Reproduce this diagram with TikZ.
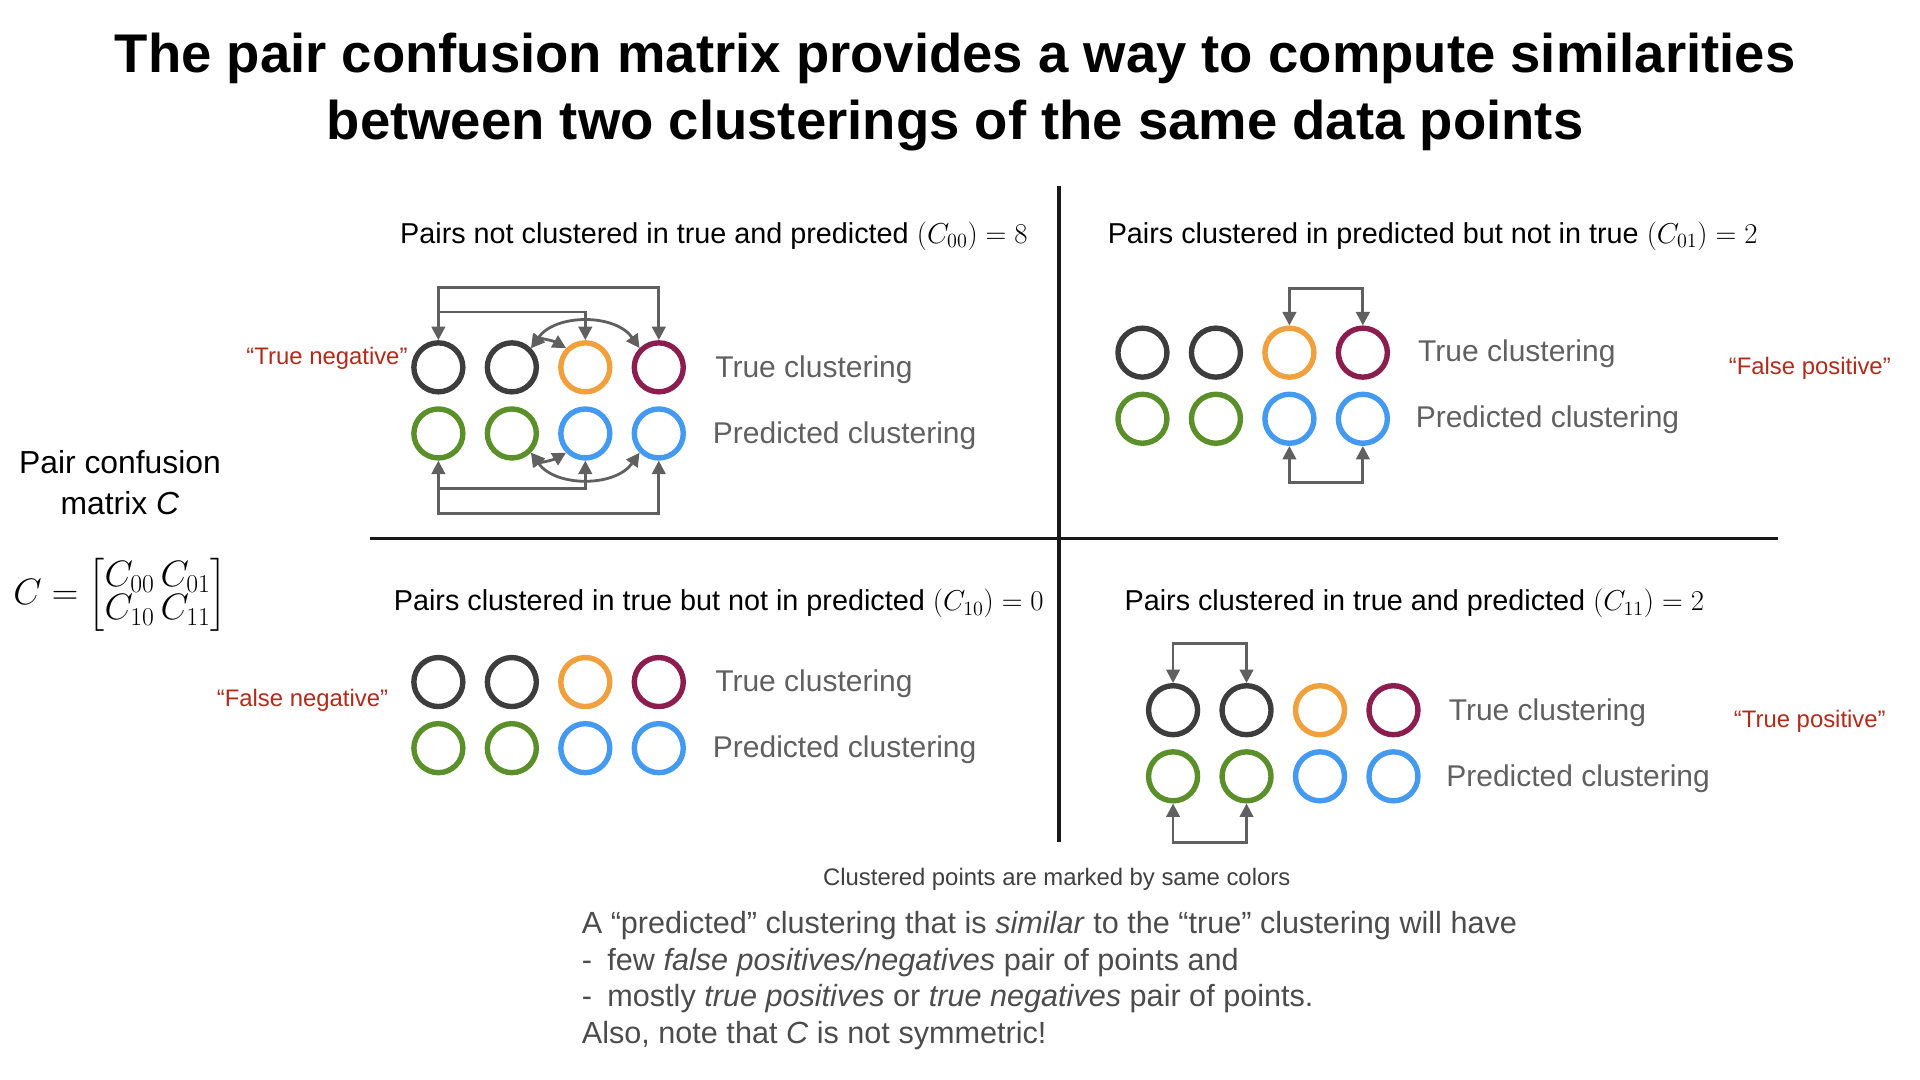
\RequirePackage{fix-cm}
\documentclass[tikz,border=0pt]{standalone}
\usepackage{amsmath}
\usepackage{fontspec}
\setmainfont{Liberation Sans}
\usetikzlibrary{arrows.meta}
\definecolor{cdark}{HTML}{3D3D3D}
\definecolor{corange}{HTML}{F0A03C}
\definecolor{cmaroon}{HTML}{8B1D4F}
\definecolor{cgreen}{HTML}{5A8F2A}
\definecolor{cblue}{HTML}{4499F0}
\definecolor{cgray}{HTML}{606060}
\definecolor{cred}{HTML}{B22A1A}
\tikzset{
 pt/.style={circle,draw=#1,line width=4.4pt,minimum size=40pt,inner sep=0pt},
 arr/.style={draw=cgray,line width=2.3pt,-{Triangle[length=11pt,width=11pt]}},
 darr/.style={draw=cgray,line width=2.3pt,{Triangle[length=11pt,width=11pt]}-{Triangle[length=11pt,width=11pt]}},
 lab/.style={font=\fontsize{24.5}{28}\selectfont,text=cgray,anchor=west,inner sep=0pt},
 hdr/.style={font=\fontsize{23.5}{27}\selectfont,inner sep=0pt},
 red/.style={font=\fontsize{19.5}{22}\selectfont,text=cred,inner sep=0pt},
 sep/.style={line width=2.8pt,black!90},
}
\newcommand{\quadpts}[4]{% prefix, x0, ytop, dx
 \node[pt=cdark] (#1a1) at (#2,#3) {};
 \node[pt=cdark] (#1a2) at (#2+#4,#3) {};
 \node[pt=corange] (#1a3) at (#2+2*#4,#3) {};
 \node[pt=cmaroon] (#1a4) at (#2+3*#4,#3) {};
 \node[pt=cgreen] (#1b1) at (#2,#3+54) {};
 \node[pt=cgreen] (#1b2) at (#2+#4,#3+54) {};
 \node[pt=cblue] (#1b3) at (#2+2*#4,#3+54) {};
 \node[pt=cblue] (#1b4) at (#2+3*#4,#3+54) {};
}
\begin{document}
\begin{tikzpicture}[x=1pt,y=-1pt]
\useasboundingbox (0,0) rectangle (1568,882);
\node[font=\bfseries\fontsize{44.5}{55}\selectfont,align=center] (title) at (780,75) {The pair confusion matrix provides a way to compute similarities\\between two clusterings of the same data points};

\coordinate (vt) at (865,152); \coordinate (vb) at (865,688);
\coordinate (hl) at (302,440); \coordinate (hr) at (1452,440);
\draw[sep] (vt) -- (vb);
\draw[sep] (hl) -- (hr);

% headers
\node[hdr] (h00) at (583,193) {Pairs not clustered in true and predicted $(C_{00}) = 8$};
\node[hdr] (h01) at (1170,193) {Pairs clustered in predicted but not in true $(C_{01}) = 2$};
\node[hdr] (h10) at (587,493) {Pairs clustered in true but not in predicted $(C_{10}) = 0$};
\node[hdr] (h11) at (1155,493) {Pairs clustered in true and predicted $(C_{11}) = 2$};

% top-left
\quadpts{tl}{358}{300}{60}
\node[lab] (tlt) at (584,302) {True clustering};
\node[lab] (tlp) at (582,356) {Predicted clustering};
\node[red,anchor=east] (tn) at (333,293) {“True negative”};
\draw[darr] (tla1.north) -- ++(0,-43) -| (tla4.north);
\draw[arr] ([yshift=23pt]tla1.north) -| (tla3.north);
\draw[darr] (tla2.north east) to[out=50,in=150] (tla3.north west);
\draw[darr] (tla2.north east) to[out=55,in=125] (tla4.north west);
\draw[darr] (tlb1.south) -- ++(0,43) -| (tlb4.south);
\draw[arr] ([yshift=-23pt]tlb1.south) -| (tlb3.south);
\draw[darr] (tlb2.south east) to[out=-50,in=-150] (tlb3.south west);
\draw[darr] (tlb2.south east) to[out=-55,in=-125] (tlb4.south west);

% top-right
\quadpts{tr}{933}{288}{60}
\node[lab] (trt) at (1158,289) {True clustering};
\node[lab] (trp) at (1156,343) {Predicted clustering};
\node[red] (fp) at (1478,301) {“False positive”};
\draw[darr] (tra3.north) -- ++(0,-30) -| (tra4.north);
\draw[darr] (trb3.south) -- ++(0,30) -| (trb4.south);

% bottom-left
\quadpts{bl}{358}{557}{60}
\node[lab] (blt) at (584,558) {True clustering};
\node[lab] (blp) at (582,612) {Predicted clustering};
\node[red] (fn) at (247,572) {“False negative”};

% bottom-right
\quadpts{br}{958}{580}{60}
\node[lab] (brt) at (1183,582) {True clustering};
\node[lab] (brp) at (1181,636) {Predicted clustering};
\node[red] (tp) at (1478,589) {“True positive”};
\draw[darr] (bra1.north) -- ++(0,-32) -| (bra2.north);
\draw[darr] (brb1.south) -- ++(0,32) -| (brb2.south);

% left
\node[font=\fontsize{26}{33}\selectfont,align=center] (pcm) at (98,394) {Pair confusion\\matrix \textit{C}};
\node[font=\fontsize{30}{33}\selectfont] (mat) at (98,486) {$C = \begin{bmatrix} C_{00}\,C_{01}\\[-6pt] C_{10}\,C_{11}\end{bmatrix}$};

% bottom text
\node[font=\fontsize{19.5}{22}\selectfont,text=black!75] (note) at (863,718) {Clustered points are marked by same colors};
\node[font=\fontsize{25}{30}\selectfont,text=black!70,align=left,anchor=north west,inner sep=0pt] (para) at (475,744) {A “predicted” clustering that is \textit{similar} to the “true” clustering will have\\
-\enspace few \textit{false positives/negatives} pair of points and\\
-\enspace mostly \textit{true positives} or \textit{true negatives} pair of points.\\
Also, note that \textit{C} is not symmetric!};
\end{tikzpicture}
\end{document}
